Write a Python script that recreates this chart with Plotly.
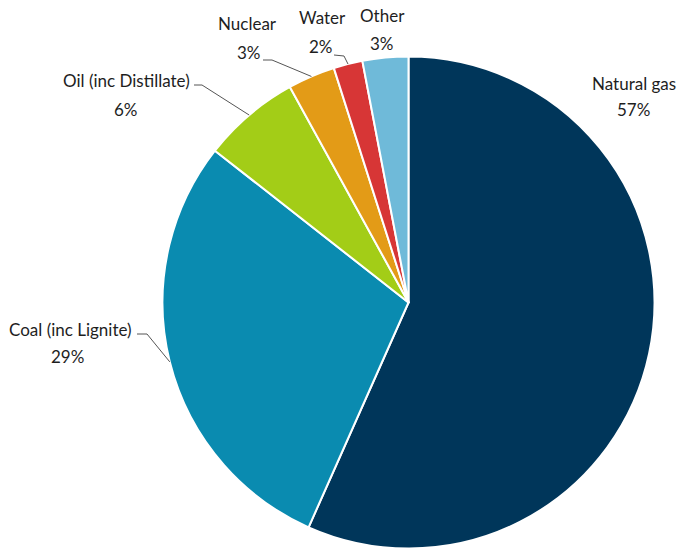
import math
import plotly.graph_objects as go

# ---- data ----
sources = ["Natural gas", "Coal (inc Lignite)", "Oil (inc Distillate)", "Nuclear", "Water", "Other"]
shares = [56.6, 28.9, 6.4, 3.1, 1.9, 3.0]
colors = ["#00365a", "#0a8bb0", "#a3cd17", "#e39b17", "#d73636", "#6fbad9"]

# ---- layout (pixels) ----
W, H = 677, 549
CX, CY, R = 408.5, 302.5, 246.0
FONT = "Lato, Liberation Sans, sans-serif"
FS = 17
TXT = "#1e1e1e"
# label centres: (name line), (percent line)
label_pos = [((634, 83), (633, 110)),
             ((70, 329), (67, 357)),
             ((126, 81), (126, 110)),
             ((248, 23), (249, 52)),
             ((322, 17), (321, 46)),
             ((382, 15), (382, 43))]
# leader lines: start point, elbow point (None = no leader)
leaders = [None,
           ((137, 334), (147, 334)),
           ((194, 85), (202, 85)),
           ((263, 60), (272, 60)),
           ((334, 55), (344, 56)),
           None]


def px(x):
    return x / W


def py(y):
    return 1 - y / H


fig = go.Figure(go.Pie(
    labels=sources, values=shares, sort=False, direction="clockwise", rotation=0,
    marker=dict(colors=colors, line=dict(color="white", width=2)),
    textinfo="none", hoverinfo="label+percent", showlegend=False,
    domain=dict(x=[(CX - R) / W, (CX + R) / W], y=[1 - (CY + R) / H, 1 - (CY - R) / H]),
))

total = sum(shares)
cum = 0.0
annotations = []
shapes = []
for i, (name, v) in enumerate(zip(sources, shares)):
    mid = (cum + v / 2) / total * 2 * math.pi
    cum += v
    ex, ey = CX + R * math.sin(mid), CY - R * math.cos(mid)
    (nx, ny), (qx, qy) = label_pos[i]
    pct = f"{round(v / total * 100)}%"
    annotations.append(dict(x=px(nx), y=py(ny), xref="paper", yref="paper", text=name,
                            showarrow=False, xanchor="center", yanchor="middle",
                            font=dict(family=FONT, size=FS, color=TXT)))
    annotations.append(dict(x=px(qx), y=py(qy), xref="paper", yref="paper", text=pct,
                            showarrow=False, xanchor="center", yanchor="middle",
                            font=dict(family=FONT, size=FS, color=TXT)))
    if leaders[i]:
        (sx, sy), (bx, by) = leaders[i]
        shapes.append(dict(type="path", xref="paper", yref="paper",
                           path=f"M {px(sx)} {py(sy)} L {px(bx)} {py(by)} L {px(ex)} {py(ey)}",
                           line=dict(color="#555555", width=1)))

fig.update_layout(width=W, height=H, margin=dict(l=0, r=0, t=0, b=0),
                  paper_bgcolor="white", plot_bgcolor="white",
                  annotations=annotations, shapes=shapes)
fig.write_html("out.html")
